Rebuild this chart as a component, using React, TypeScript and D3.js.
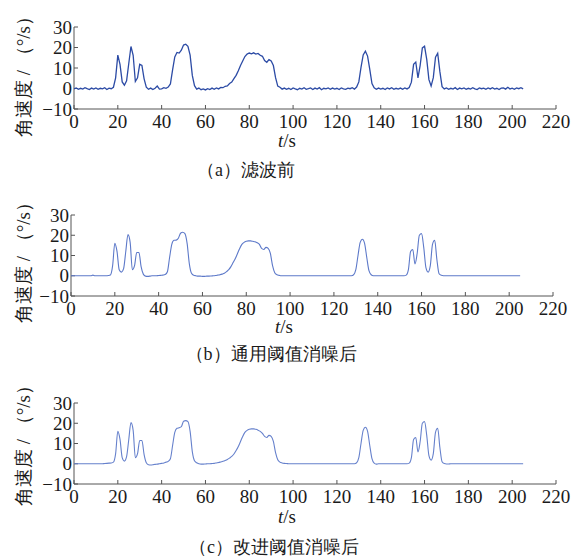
import React from "react";
import { scaleLinear, line, curveLinear, curveMonotoneX } from "d3";

// angular speed (°/s), one sample per second, t = 0 .. 205 s
// (a) raw signal before filtering
const speedRaw = [
  -0.2, 0.3, -0.4, 0.1, -0.3, 0.4, -0.1, -0.5, 0.2, -0.3,
  0.3, -0.4, 0.1, -0.2, 0.4, -0.5, 0.2, -0.1, 0.6, 5.2,
  16.3, 11.8, 3.2, 1.6, 3.8, 12.2, 20.5, 16.2, 3.4, 5.2,
  11.8, 11.3, 4.7, 0.6, -0.4, 0.2, -0.5, 0.1, 1.2, -0.3,
  -0.2, 0.4, 0.1, 0.7, 2.2, 9.1, 15.4, 17.6, 17.3, 18.7,
  21.2, 21.6, 20.6, 16.3, 6.4, 1.4, -0.3, 0.2, -0.6, -0.2,
  -0.7, -0.1, -0.5, 0.2, -0.4, 0.3, -0.2, 0.5, 0.4, 1.1,
  1.3, 2.4, 3.1, 4.8, 6.4, 8.7, 11.2, 13.4, 15.6, 16.8,
  17.3, 16.9, 17.4, 16.8, 17.1, 16.2, 15.7, 13.6, 12.8, 14.1,
  13.4, 11.2, 5.3, 1.2, 0.6, -0.3, 0.2, -0.4, 0.1, -0.5,
  0.3, -0.2, -0.6, 0.1, -0.3, 0.4, -0.4, -0.1, 0.3, -0.5,
  0.2, -0.3, 0.4, -0.6, 0.1, -0.2, 0.3, -0.4, 0.2, -0.3,
  0.1, -0.5, 0.3, -0.2, -0.4, 0.2, -0.1, 0.4, -0.3, 0.7,
  3.2, 10.3, 16.4, 18.2, 15.8, 9.3, 2.4, 0.3, -0.4, 0.2,
  -0.3, 0.1, -0.5, 0.3, -0.2, 0.4, -0.4, 0.1, -0.3, 0.2,
  -0.4, 0.3, -0.2, 0.5, 3.1, 11.8, 12.9, 5.2, 11.3, 19.8,
  20.6, 14.2, 4.3, 1.2, 5.3, 15.3, 17.2, 8.2, 0.9, -0.2,
  0.3, -0.4, 0.1, -0.3, 0.4, -0.5, 0.2, -0.2, 0.3, -0.4,
  0.1, -0.3, 0.4, -0.2, -0.5, 0.3, -0.1, 0.2, -0.4, 0.3,
  -0.2, 0.4, -0.3, 0.1, -0.5, 0.2, 0.3, -0.3, 0.6, -0.2,
  0.2, -0.4, 0.3, -0.1, 0.4, -0.2,
];

// (b) universal threshold denoising
const speedUniversal = [
  0, 0, 0, 0, 0, 0, 0, 0, 0, 0,
  0.3, 0, 0, 0, 0, 0, 0, 0.1, 0.4, 5,
  16, 12, 3, 1.8, 3.5, 12, 20.3, 16.5, 3, 5,
  11.5, 11.5, 4.5, 0.8, -0.2, -0.3, -0.2, 0, 0, 0,
  0.1, 0.2, 0.3, 0.6, 2, 9, 15.5, 17.5, 17.6, 18.5,
  21, 21.5, 20.8, 16, 6, 1.2, 0.2, 0, -0.2, -0.2,
  -0.3, -0.3, -0.2, -0.2, -0.1, 0, 0.1, 0.3, 0.5, 0.8,
  1.2, 2, 3, 4.5, 6.5, 8.5, 11, 13.5, 15.5, 16.5,
  17, 17.2, 17.2, 17, 16.8, 16.3, 15.5, 13.5, 13, 14,
  13.5, 11, 5, 1.5, 0.5, 0.2, 0, 0, 0, 0,
  0, 0, 0, 0, 0, 0, 0, 0, 0, 0,
  0, 0, 0, 0, 0, 0, 0, 0, 0, 0,
  0, 0, 0, 0, 0, 0, 0, 0, 0, 0.5,
  3, 10, 16.5, 18, 16, 9, 2.5, 0.5, 0, 0,
  0, 0, 0, 0, 0, 0, 0, 0, 0, 0,
  0, 0, 0, 0.3, 3, 12, 13, 5.8, 11, 20,
  20.8, 14, 4, 1.8, 5, 15.5, 17.5, 8, 1, 0.2,
  0, 0, 0, 0, 0, 0, 0, 0, 0, 0,
  0, 0, 0, 0, 0, 0, 0, 0, 0, 0,
  0, 0, 0, 0, 0, 0, 0, 0, 0, 0,
  0, 0, 0, 0, 0, 0,
];

// (c) improved threshold denoising
const speedImproved = [
  0, 0, 0, 0, 0, 0, 0, 0, 0, 0,
  0, 0, 0, 0, 0.1, 0.2, 0.3, 0.4, 0.8, 5,
  16, 12, 3, 1.3, 3.5, 12, 20.3, 16.5, 3, 5,
  11.5, 11.5, 4.5, 0.5, -0.5, -0.6, -0.5, -0.3, -0.2, 0,
  0.2, 0.4, 0.8, 1.2, 2.5, 9, 15.5, 17.5, 17.8, 18.3,
  21, 21.3, 20.8, 16, 6, 1.5, 0.5, 0, -0.2, -0.2,
  -0.1, 0, 0, 0.1, 0.2, 0.4, 0.6, 0.9, 1.2, 1.6,
  2.1, 2.8, 3.6, 4.8, 6.5, 8.5, 11, 13.5, 15.5, 16.5,
  17, 17.2, 17.2, 17, 16.6, 16, 15, 13.5, 13, 14,
  13.5, 11, 5.5, 2, 0.8, 0.4, 0.2, 0.1, 0, 0,
  0, 0, 0, 0, 0, 0, 0, 0, 0, 0,
  0, 0, 0, 0, 0, 0, 0, 0, 0, 0,
  0, 0, 0, 0, 0, 0, 0, 0, 0, 0.5,
  3, 10, 16.5, 18, 16, 9, 2.5, 0.3, -0.2, 0,
  0, 0, 0, 0, 0, 0, 0, 0, 0, 0,
  0, 0, 0, 0.3, 3, 12, 13, 5.8, 11, 20,
  20.8, 14, 4, 1.8, 5, 15.5, 17.5, 8, 1, 0.1,
  -0.1, -0.1, 0, 0, 0, 0, 0, 0, 0, 0,
  0, 0, 0, 0, 0, 0, 0, 0, 0, 0,
  0, 0, 0, 0, 0, 0, 0, 0, 0, 0,
  0, 0, 0, 0, 0, 0,
];

const sampleStep = 1; // s
const xTicks = [0, 20, 40, 60, 80, 100, 120, 140, 160, 180, 200, 220];
const yTicks = [-10, 0, 10, 20, 30];
const captions = ["（a）滤波前", "（b）通用阈值消噪后", "（c）改进阈值消噪后"];
const yLabel = "角速度 / （°/s）";

// CJK glyphs fall back on their own
const SERIF = "Liberation Serif";
const INK = "#1a1a1a";
const AXIS = "#555";

const fmt = (v) => (v < 0 ? "−" + Math.abs(v) : String(v));

function Panel({ data, color, strokeWidth, curve, left, right, top, bottom, yLabelY, xLabelX, xLabelY, capX, capY, caption }) {
  const xScale = scaleLinear().domain([0, 220]).range([left, right]);
  const yScale = scaleLinear().domain([-10, 30]).range([bottom, top]);
  const path = line()
    .x((d, k) => xScale(k * sampleStep))
    .y(d => yScale(d))
    .curve(curve)(data);

  return (
    <g>
      {/* axes */}
      <line x1={left} x2={right} y1={bottom} y2={bottom} stroke={AXIS} strokeWidth={1} />
      <line x1={left} x2={left} y1={yScale(-10)} y2={yScale(30)} stroke={AXIS} strokeWidth={1} />
      {xTicks.map(t => (
        <g key={"x" + t}>
          <line x1={xScale(t)} x2={xScale(t)} y1={bottom} y2={bottom - 4} stroke={AXIS} />
          <text x={xScale(t)} y={bottom + 19} textAnchor="middle" fontSize={19} fontFamily={SERIF} fill={INK}>
            {fmt(t)}
          </text>
        </g>
      ))}
      {yTicks.map(v => (
        <g key={"y" + v}>
          <line x1={left} x2={left + 4} y1={yScale(v)} y2={yScale(v)} stroke={AXIS} />
          <text x={left - 2} y={yScale(v) + 6.5} textAnchor="end" fontSize={19} fontFamily={SERIF} fill={INK}>
            {fmt(v)}
          </text>
        </g>
      ))}

      <path d={path} fill="none" stroke={color} strokeWidth={strokeWidth} />

      {/* y label */}
      <text transform={`translate(30, ${yLabelY}) rotate(-90)`} textAnchor="middle" fontSize={19} fontFamily={SERIF} fill={INK}>
        {yLabel}
      </text>

      {/* x label */}
      <text x={xLabelX} y={xLabelY} textAnchor="middle" fontSize={19} fontFamily={SERIF} fill={INK}>
        <tspan fontStyle="italic">t</tspan>
        <tspan>/s</tspan>
      </text>

      {/* caption */}
      <text x={capX} y={capY} textAnchor="middle" fontSize={18} fontFamily={SERIF} fill={INK}>
        {caption}
      </text>
    </g>
  );
}

export default function App() {
  const width = 577;
  const height = 558;

  const panels = [
    { data: speedRaw, color: "#2c4ba5", strokeWidth: 1.3, curve: curveLinear, left: 74, right: 556, top: 27, bottom: 109, yLabelY: 72, xLabelX: 287, xLabelY: 147, capX: 246, capY: 176 },
    { data: speedUniversal, color: "#5d79c9", strokeWidth: 1.1, curve: curveMonotoneX, left: 71, right: 553, top: 215, bottom: 296, yLabelY: 258, xLabelX: 284, xLabelY: 333, capX: 271, capY: 360 },
    { data: speedImproved, color: "#6681cc", strokeWidth: 1.1, curve: curveMonotoneX, left: 74, right: 556, top: 403, bottom: 484, yLabelY: 441, xLabelX: 287, xLabelY: 523, capX: 274, capY: 553 },
  ];

  return (
    <svg width={width} height={height} style={{ position: "absolute", left: 0, top: 0, background: "#fff" }}>
      {panels.map((p, i) => (
        <Panel key={i} {...p} caption={captions[i]} />
      ))}
    </svg>
  );
}
